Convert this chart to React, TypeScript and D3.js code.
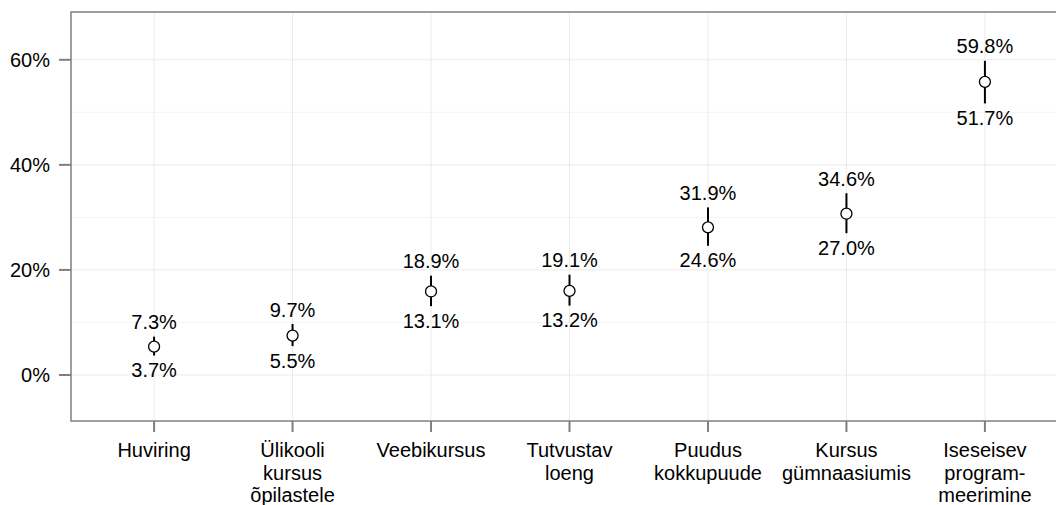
import React from "react";
import * as d3 from "d3";

const categories: string[][] = [
  ["Huviring"],
  ["Ülikooli", "kursus", "õpilastele"],
  ["Veebikursus"],
  ["Tutvustav", "loeng"],
  ["Puudus", "kokkupuude"],
  ["Kursus", "gümnaasiumis"],
  ["Iseseisev", "program-", "meerimine"],
];
const estimates = [5.4, 7.5, 15.9, 16.0, 28.1, 30.7, 55.8];
const lowers = [3.7, 5.5, 13.1, 13.2, 24.6, 27.0, 51.7];
const uppers = [7.3, 9.7, 18.9, 19.1, 31.9, 34.6, 59.8];
const yTicks = [0, 20, 40, 60];
const yMinor = [10, 30, 50];

const W = 1056;
const H = 505;
const left = 71;
const right = 1068;
const top = 12;
const bottom = 421;
const FONT = "Arial, 'Liberation Sans', sans-serif";
const FS = 20;

export default function App() {
  const keys = categories.map((c) => c.join(" "));
  const x = d3.scalePoint<string>().domain(keys).range([left, right]).padding(0.6);
  const y = d3.scaleLinear().domain([-8.76, 69.1]).range([bottom, top]);
  const fmt = (v: number) => v.toFixed(1) + "%";

  return (
    <svg
      width={W}
      height={H}
      style={{ position: "absolute", left: 0, top: 0, background: "#fff" }}
      fontFamily={FONT}
    >
      <rect x={left} y={top} width={right - left} height={bottom - top} fill="#fff" />
      {yMinor.map((t) => (
        <line key={"m" + t} x1={left} x2={right} y1={y(t)} y2={y(t)} stroke="#f4f4f4" strokeWidth={1} />
      ))}
      {yTicks.map((t) => (
        <line key={"g" + t} x1={left} x2={right} y1={y(t)} y2={y(t)} stroke="#ebebeb" strokeWidth={1} />
      ))}
      {keys.map((k) => (
        <line key={"v" + k} x1={x(k)!} x2={x(k)!} y1={top} y2={bottom} stroke="#ebebeb" strokeWidth={1} />
      ))}
      <rect x={left} y={top} width={right - left} height={bottom - top} fill="none" stroke="#7f7f7f" strokeWidth={1.5} />
      {yTicks.map((t) => (
        <g key={"t" + t}>
          <line x1={left - 12} x2={left} y1={y(t)} y2={y(t)} stroke="#7f7f7f" strokeWidth={2} />
          <text x={left - 21} y={y(t)} dy="0.36em" textAnchor="end" fontSize={FS} fill="#000">
            {t + "%"}
          </text>
        </g>
      ))}
      {categories.map((c, i) => {
        const cx = x(keys[i])!;
        return (
          <g key={"x" + i}>
            <line x1={cx} x2={cx} y1={bottom} y2={bottom + 11} stroke="#7f7f7f" strokeWidth={2} />
            {c.map((line, j) => (
              <text key={j} x={cx} y={457 + j * 22.5} textAnchor="middle" fontSize={FS} fill="#000">
                {line}
              </text>
            ))}
          </g>
        );
      })}
      {estimates.map((e, i) => {
        const cx = x(keys[i])!;
        return (
          <g key={"p" + i}>
            <line x1={cx} x2={cx} y1={y(lowers[i])} y2={y(uppers[i])} stroke="#000" strokeWidth={2} />
            <circle cx={cx} cy={y(e)} r={5.5} fill="#fff" stroke="#000" strokeWidth={1.3} />
            <text x={cx} y={y(uppers[i]) - 7.5} textAnchor="middle" fontSize={FS} fill="#000">
              {fmt(uppers[i])}
            </text>
            <text x={cx} y={y(lowers[i]) + 21.5} textAnchor="middle" fontSize={FS} fill="#000">
              {fmt(lowers[i])}
            </text>
          </g>
        );
      })}
    </svg>
  );
}
